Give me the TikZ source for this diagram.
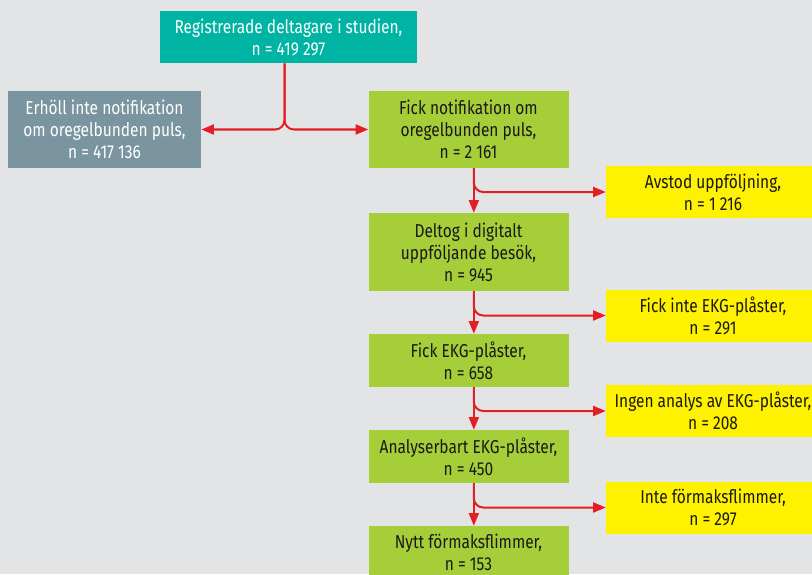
\documentclass[tikz,border=0pt]{standalone}
\usepackage{fontspec}
\setmainfont{Fira Sans}[FakeStretch=0.83]
\usetikzlibrary{arrows.meta}
\definecolor{bggray}{RGB}{227,228,230}
\definecolor{teal}{RGB}{0,180,164}
\definecolor{slate}{RGB}{122,148,160}
\definecolor{lime}{RGB}{166,206,57}
\definecolor{yel}{RGB}{255,242,0}
\definecolor{arrred}{RGB}{227,30,36}
\begin{document}
\begin{tikzpicture}[x=0.75pt,y=-0.75pt,
  box/.style={inner sep=0pt,align=center,font=\fontsize{14}{16.5}\selectfont,minimum width=150pt},
  topbox/.style={box,fill=teal,text=white,minimum width=192.75pt,minimum height=39pt},
  outbox/.style={box,fill=slate,text=white,minimum width=144.75pt,minimum height=57.75pt},
  greenbox/.style={box,fill=lime,text=black!90},
  yelbox/.style={box,fill=yel,text=black!90,minimum width=160.5pt,minimum height=39pt},
  flow/.style={draw=arrred,line width=1.5pt,-{Triangle[length=9.5pt,width=7.5pt]}},
  branch/.style={flow,rounded corners=7pt}]
\fill[bggray] (0,0) rectangle (812,574);
\useasboundingbox (0,0) rectangle (812,574);

\node[topbox] (reg) at (288.5,37) {Registrerade deltagare i studien,\\n = 419 297};
\node[outbox] (ej) at (104.5,129.5) {Erhöll inte notifikation\\om oregelbunden puls,\\n = 417 136};
\node[greenbox,minimum height=57.75pt] (notif) at (468.5,129.5) {Fick notifikation om\\oregelbunden puls,\\n = 2 161};
\node[yelbox] (avstod) at (713,192) {Avstod uppföljning,\\n = 1 216};
\node[greenbox,minimum height=58.5pt] (deltog) at (468.5,252) {Deltog i digitalt\\uppföljande besök,\\n = 945};
\node[yelbox] (ejekg) at (713,315.5) {Fick inte EKG-plåster,\\n = 291};
\node[greenbox,minimum height=39.75pt] (ekg) at (468.5,360.5) {Fick EKG-plåster,\\n = 658};
\node[yelbox] (ingen) at (713,411) {Ingen analys av EKG-plåster,\\n = 208};
\node[greenbox,minimum height=39.75pt] (analys) at (468.5,456.5) {Analyserbart EKG-plåster,\\n = 450};
\node[yelbox] (inte) at (713,507.5) {Inte förmaksflimmer,\\n = 297};
\node[greenbox,minimum height=39.75pt] (nytt) at (468.5,552.5) {Nytt förmaksflimmer,\\n = 153};

% split after registration
\draw[branch] ([xshift=-3pt]reg.south) |- (ej.east);
\draw[branch] ([xshift=-3pt]reg.south) |- (notif.west);

% main chain
\draw[flow] ([xshift=4pt]notif.south) -- ([xshift=4pt]deltog.north);
\draw[flow] ([xshift=4pt]deltog.south) -- ([xshift=4pt]ekg.north);
\draw[flow] ([xshift=4pt]ekg.south) -- ([xshift=4pt]analys.north);
\draw[flow] ([xshift=4pt]analys.south) -- ([xshift=4pt]nytt.north);

% drop-outs
\draw[branch] ([xshift=4pt]notif.south) |- (avstod.west);
\draw[branch] ([xshift=4pt]deltog.south) |- (ejekg.west);
\draw[branch] ([xshift=4pt]ekg.south) |- (ingen.west);
\draw[branch] ([xshift=4pt]analys.south) |- (inte.west);
\end{tikzpicture}
\end{document}
